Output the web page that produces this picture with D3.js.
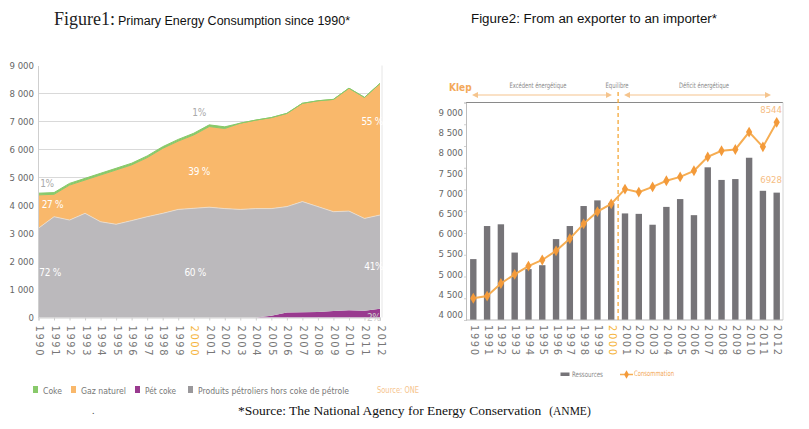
<!DOCTYPE html>
<html><head><meta charset="utf-8">
<script src="https://cdn.jsdelivr.net/npm/d3@7"></script>
<style>
body{margin:0;background:#fff;}
svg{display:block;}
</style></head><body>
<svg id="c" width="809" height="429"></svg>
<script>
// ---------- DATA ----------
const years = [1990,1991,1992,1993,1994,1995,1996,1997,1998,1999,2000,2001,2002,2003,2004,2005,2006,2007,2008,2009,2010,2011,2012];
// Figure 1 (ktep), stacked bottom -> top
const petCoke  = [0,0,0,0,0,0,0,0,0,0,0,0,0,0,0,60,180,190,200,230,260,240,310];
const produits = [3190,3600,3480,3720,3420,3330,3460,3600,3720,3860,3900,3940,3890,3860,3890,3830,3780,3950,3760,3550,3540,3300,3350];
const gaz      = [1190,800,1250,1190,1670,1940,1990,2110,2320,2440,2620,2880,2860,3080,3160,3250,3330,3510,3780,4010,4390,4320,4700];
const coke     = [60,60,60,60,60,60,60,60,60,60,60,60,60,0,0,0,0,0,0,0,0,0,0];
const leftTicks = [0,1000,2000,3000,4000,5000,6000,7000,8000,9000];
// Figure 2 (ktep)
const ressources   = [5400,6160,6200,5550,5170,5260,5860,6160,6620,6750,6680,6450,6440,6190,6600,6780,6410,7510,7220,7240,7730,6970,6928];
const consommation = [4500,4550,4840,5050,5240,5380,5590,5870,6210,6490,6670,7010,6940,7060,7200,7290,7430,7750,7890,7920,8320,7980,8544];
const rightTicks = [4000,4500,5000,5500,6000,6500,7000,7500,8000,8500,9000];
const legend1 = ["Coke","Gaz naturel","Pét coke","Produits pétroliers hors coke de pétrole"];
const legend2 = ["Ressources","Consommation"];

// ---------- COMMON ----------
const svg = d3.select("#c");
const COND = '"Liberation Sans Narrow","Arial Narrow","DejaVu Sans Condensed","Roboto",sans-serif';
const fmt = d => d3.format(",")(d).replace(/,/g," ");

// ---------- TITLES ----------
const t1 = svg.append("text").attr("x",54).attr("y",25);
t1.append("tspan").attr("font-family","'Liberation Serif','Times New Roman',serif").attr("font-size",18).attr("fill","#222").text("Figure1:");
t1.append("tspan").attr("font-family","'Liberation Sans',Arial,sans-serif").attr("font-size",12.5).attr("fill","#111").attr("dx",3).text("Primary Energy Consumption since 1990*");
svg.append("text").attr("x",471).attr("y",23).attr("font-family","'Liberation Sans',Arial,sans-serif")
  .attr("font-size",12.5).attr("fill","#111").attr("textLength",246).attr("lengthAdjust","spacingAndGlyphs")
  .text("Figure2: From an exporter to an importer*");

// ---------- FIGURE 1 ----------
const x1 = d3.scaleLinear().domain([1990,2012]).range([38.5,380]);
const y1 = d3.scaleLinear().domain([0,9000]).range([317.5,65.5]);
const g1 = svg.append("g");
// grid
g1.append("g").selectAll("line").data(leftTicks.filter(d=>d>0 && d<9000)).join("line")
  .attr("x1",x1(1990)).attr("x2",x1(2012)).attr("y1",d=>y1(d)).attr("y2",d=>y1(d))
  .attr("stroke","#d9d9d9").attr("stroke-width",1);
g1.append("line").attr("x1",382).attr("x2",382).attr("y1",y1(9000)).attr("y2",y1(0)).attr("stroke","#e6e6e6");

const rows = years.map((y,i)=>({year:y, pet:petCoke[i], prod:produits[i], gaz:gaz[i], coke:coke[i]}));
const stack = d3.stack().keys(["pet","prod","gaz","coke"])(rows);
const colors1 = {pet:"#993a8f", prod:"#bbb9bc", gaz:"#f9b86b", coke:"#88c96a"};
const area1 = d3.area().x(d=>x1(d.data.year)).y0(d=>y1(d[0])).y1(d=>y1(d[1]));
g1.selectAll("path.layer").data(stack).join("path").attr("class","layer")
  .attr("d",area1).attr("fill",d=>colors1[d.key])
  .attr("stroke",d=>d.key==="coke"?colors1.coke:"none").attr("stroke-width",d=>d.key==="coke"?1:0);
// light separation line between grey and orange
g1.append("path").datum(stack[1]).attr("fill","none").attr("stroke","#e9e0d6").attr("stroke-width",0.8)
  .attr("d",d3.line().x(d=>x1(d.data.year)).y(d=>y1(d[1])));

// y axis
const ya1 = g1.append("g").attr("transform",`translate(${x1(1990)-0.5},0)`)
  .call(d3.axisLeft(y1).tickValues(leftTicks).tickFormat(fmt).tickSize(0).tickPadding(4));
ya1.select(".domain").attr("stroke","#cfcfcf");
ya1.selectAll("text").attr("font-family",COND).attr("font-size",9.5).attr("fill","#666");
// x axis
const xa1 = g1.append("g").attr("transform",`translate(0,${y1(0)})`)
  .call(d3.axisBottom(x1).tickValues(years).tickFormat(d3.format("d")).tickSize(3).tickPadding(0));
xa1.select(".domain").attr("stroke","#cfcfcf");
xa1.selectAll("line").attr("stroke","#cfcfcf");
xa1.selectAll("text").attr("font-family",COND).attr("font-size",11).attr("letter-spacing","1.6px")
  .attr("fill",d=>d===2000?"#f5b43c":"#777")
  .attr("text-anchor","start").attr("dy",0).attr("dominant-baseline","middle")
  .attr("transform","translate(0,8) rotate(90)").attr("y",0).attr("x",0);

// percentage labels
const pct = [
  {t:"1%", yr:1990.55, v:4760, c:"#aaa"},
  {t:"27 %", yr:1990.9, v:4030, c:"#fff"},
  {t:"72 %", yr:1990.75, v:1590, c:"#fff"},
  {t:"1%", yr:2000.35, v:7310, c:"#aaa"},
  {t:"39 %", yr:2000.35, v:5210, c:"#fff"},
  {t:"60 %", yr:2000.1, v:1590, c:"#fff"},
  {t:"55 %", yr:2011.5, v:6980, c:"#fff"},
  {t:"41%", yr:2011.6, v:1800, c:"#fff"},
  {t:"2%", yr:2011.6, v:-30, c:"#ccc"}
];
g1.selectAll("text.pct").data(pct).join("text").attr("class","pct")
  .attr("x",d=>x1(d.yr)).attr("y",d=>y1(d.v)).attr("text-anchor","middle").attr("dominant-baseline","middle")
  .attr("font-family",COND).attr("font-size",10).attr("letter-spacing","-0.3px").attr("fill",d=>d.c).text(d=>d.t);

// legend 1
const leg1 = [
  {t:legend1[0], c:colors1.coke, x:33, w:19},
  {t:legend1[1], c:colors1.gaz, x:71, w:45},
  {t:legend1[2], c:colors1.pet, x:135, w:31},
  {t:legend1[3], c:"#9a989b", x:188, w:151}
];
const lg1 = g1.selectAll("g.leg").data(leg1).join("g").attr("class","leg").attr("transform",d=>`translate(${d.x},386)`);
lg1.append("rect").attr("width",5).attr("height",7).attr("fill",d=>d.c);
lg1.append("text").attr("x",10).attr("y",7.5).attr("font-family",COND).attr("font-size",9.5).attr("fill","#777")
  .attr("textLength",d=>d.w).attr("lengthAdjust","spacingAndGlyphs").text(d=>d.t);
g1.append("text").attr("x",377).attr("y",393).attr("font-family",COND).attr("font-size",9.5).attr("fill","#f6c48e")
  .attr("textLength",42).attr("lengthAdjust","spacingAndGlyphs").text("Source: ONE");

// ---------- FIGURE 2 ----------
const x2 = d3.scaleLinear().domain([1990,2012]).range([473.3,776.7]);
const y2 = d3.scaleLinear().domain([4000,9000]).range([320,102.5]);
const y2lab = d3.scaleLinear().domain([4000,9000]).range([314.5,112.3]);
const g2 = svg.append("g");
// frame
g2.append("line").attr("x1",466).attr("x2",783).attr("y1",y2(9000)).attr("y2",y2(9000)).attr("stroke","#8a8a8a").attr("stroke-width",1.2);
g2.append("line").attr("x1",783).attr("x2",783).attr("y1",y2(9000)).attr("y2",y2(4000)).attr("stroke","#d4d4d4");
// bars
g2.selectAll("rect.bar").data(years.map((y,i)=>({year:y,v:ressources[i]}))).join("rect").attr("class","bar")
  .attr("x",d=>x2(d.year)-3.2).attr("width",6.4).attr("y",d=>y2(d.v)).attr("height",d=>y2(4000)-y2(d.v))
  .attr("fill","#767478");
// y axis ticks
const ya2 = g2.append("g").attr("transform","translate(466,0)")
  .call(d3.axisLeft(y2).tickValues(rightTicks).tickFormat("").tickSize(2));
ya2.select(".domain").attr("stroke","#bdbdbd");
ya2.selectAll("line").attr("stroke","#cfcfcf");
const yl2 = g2.append("g").attr("transform","translate(466,0)")
  .call(d3.axisLeft(y2lab).tickValues(rightTicks).tickFormat(fmt).tickSize(0).tickPadding(3));
yl2.select(".domain").remove();
yl2.selectAll("text").attr("font-family",COND).attr("font-size",9.5).attr("fill","#666");
// x axis
const xa2 = g2.append("g").attr("transform",`translate(0,${y2(4000)})`)
  .call(d3.axisBottom(x2).tickValues(years).tickFormat(d3.format("d")).tickSize(0).tickPadding(0));
xa2.select(".domain").attr("stroke","#bdbdbd").attr("d","M466,0H783");
xa2.selectAll("text").attr("font-family",COND).attr("font-size",11).attr("letter-spacing","1.6px")
  .attr("fill",d=>d===2000?"#f5b43c":"#777")
  .attr("text-anchor","start").attr("dy",0).attr("dominant-baseline","middle")
  .attr("transform","translate(0,5) rotate(90)").attr("y",0).attr("x",0);
// dashed divider between 2000 and 2001
g2.append("line").attr("x1",(x2(2000)+x2(2001))/2).attr("x2",(x2(2000)+x2(2001))/2)
  .attr("y1",92).attr("y2",y2(4000)).attr("stroke","#f5a83a").attr("stroke-width",1.3).attr("stroke-dasharray","4,3");
// consumption line
const line2 = d3.line().x((d,i)=>x2(years[i])).y(d=>y2(d));
g2.append("path").datum(consommation).attr("d",line2).attr("fill","none").attr("stroke","#f6ad52").attr("stroke-width",2);
g2.selectAll("path.mk").data(consommation).join("path").attr("class","mk")
  .attr("d",d3.symbol().type(d3.symbolDiamond).size(34))
  .attr("transform",(d,i)=>`translate(${x2(years[i])},${y2(d)})`).attr("fill","#f39a3a");
// value labels
g2.append("text").attr("x",782).attr("y",y2(consommation[22])-9).attr("text-anchor","end")
  .attr("font-family",COND).attr("font-size",9.5).attr("fill","#f6bd84").text(d3.format("d")(consommation[22]));
g2.append("text").attr("x",782).attr("y",y2(ressources[22])-10).attr("text-anchor","end")
  .attr("font-family",COND).attr("font-size",9.5).attr("fill","#f6bd84").text(d3.format("d")(ressources[22]));
// header
g2.append("text").attr("x",449).attr("y",91).attr("font-family",COND).attr("font-size",10).attr("font-weight","bold")
  .attr("fill","#f3a95a").text("Klep");
const arrowY = 95;
const arrows = [[475,609],[627,768]];
const defs = svg.append("defs");
defs.append("marker").attr("id","ah").attr("viewBox","0 0 10 10").attr("refX",5).attr("refY",5)
  .attr("markerWidth",5).attr("markerHeight",5).attr("orient","auto-start-reverse")
  .append("path").attr("d","M0,0L10,5L0,10z").attr("fill","#f5c48d");
g2.selectAll("line.arr").data(arrows).join("line").attr("class","arr")
  .attr("x1",d=>d[0]).attr("x2",d=>d[1]).attr("y1",arrowY).attr("y2",arrowY)
  .attr("stroke","#f5c48d").attr("stroke-width",1.2).attr("marker-start","url(#ah)").attr("marker-end","url(#ah)");
const hdr = [{t:"Excédent énergétique",x:538,w:57},{t:"Equilibre",x:617,w:23},{t:"Déficit énergétique",x:704,w:50}];
g2.selectAll("text.hdr").data(hdr).join("text").attr("class","hdr").attr("x",d=>d.x).attr("y",88)
  .attr("text-anchor","middle").attr("font-family",COND).attr("font-size",7.5).attr("fill","#8a8a8a")
  .attr("textLength",d=>d.w).attr("lengthAdjust","spacingAndGlyphs").text(d=>d.t);
// legend 2
g2.append("rect").attr("x",560.5).attr("y",372.5).attr("width",9).attr("height",3.5).attr("fill","#767478");
g2.append("text").attr("x",572).attr("y",377).attr("font-family",COND).attr("font-size",7.5).attr("fill","#8a8a8a")
  .attr("textLength",31).attr("lengthAdjust","spacingAndGlyphs").text(legend2[0]);
g2.append("line").attr("x1",620).attr("x2",633).attr("y1",374.5).attr("y2",374.5).attr("stroke","#f6ad52").attr("stroke-width",1.5);
g2.append("path").attr("d",d3.symbol().type(d3.symbolDiamond).size(20)).attr("transform","translate(626.5,374.5)").attr("fill","#f39a3a");
g2.append("text").attr("x",634).attr("y",376).attr("font-family",COND).attr("font-size",7.5).attr("fill","#f3a95a")
  .attr("textLength",40).attr("lengthAdjust","spacingAndGlyphs").text(legend2[1]);

// ---------- FOOTNOTE ----------
const fn = svg.append("text").attr("x",238).attr("y",415).attr("font-family","'Liberation Serif','Times New Roman',serif").attr("fill","#111");
fn.append("tspan").attr("font-size",13.5).text("*Source: The National Agency for Energy Conservation");
fn.append("tspan").attr("font-size",11.5).attr("dx",8).text("(ANME)");
svg.append("text").attr("x",92).attr("y",414).attr("font-family","'Liberation Serif',serif").attr("font-size",10).attr("fill","#444").text(".");
</script>
</body></html>
